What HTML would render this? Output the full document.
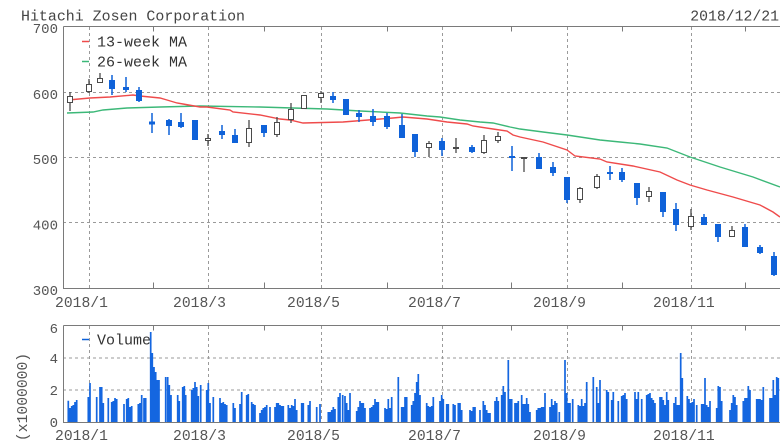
<!DOCTYPE html>
<html><head><meta charset="utf-8"><style>
html,body{margin:0;padding:0;background:#fff;}
svg{display:block;}
text{font-family:"Liberation Mono","DejaVu Sans Mono",monospace;}
</style></head><body>
<svg width="780" height="447" viewBox="0 0 780 447" xmlns="http://www.w3.org/2000/svg">
<rect width="780" height="447" fill="#fff"/>
<!-- Title -->
<text x="21" y="20.5" font-size="15" fill="#444" textLength="224" lengthAdjust="spacingAndGlyphs">Hitachi Zosen Corporation</text>
<text x="779" y="20.5" font-size="14.8" fill="#444" text-anchor="end">2018/12/21</text>

<!-- Price gridlines -->
<g stroke="#9a9a9a" stroke-width="1" stroke-dasharray="3,3" fill="none">
<path d="M63 92.5H780M63 157.5H780M63 222.5H780"/>
<path d="M89.5 27V288M208.5 27V288M321.5 27V288M442.5 27V288M567.5 27V288M691.5 27V288"/>
<path d="M63 358H780M63 390H780"/>
<path d="M89.5 326V422M208.5 326V422M321.5 326V422M442.5 326V422M567.5 326V422M691.5 326V422"/>
</g>

<!-- Frames -->
<g stroke="#7a7a7a" stroke-width="1" fill="none">
<path d="M63.5 26.5V288.5H780M63.5 26.5H780"/>
<path d="M63.5 325.5V422.5H780M63.5 325.5H780"/>
<path d="M153.5 26.5V31.5M264.5 26.5V31.5M387.5 26.5V31.5M511.5 26.5V31.5M622.5 26.5V31.5M745.5 26.5V31.5"/>
<path d="M153.5 288.5V282.5M264.5 288.5V282.5M387.5 288.5V282.5M511.5 288.5V282.5M622.5 288.5V282.5M745.5 288.5V282.5"/>
<path d="M153.5 325.5V330.5M264.5 325.5V330.5M387.5 325.5V330.5M511.5 325.5V330.5M622.5 325.5V330.5M745.5 325.5V330.5"/>
<path d="M153.5 422.5V416.5M264.5 422.5V416.5M387.5 422.5V416.5M511.5 422.5V416.5M622.5 422.5V416.5M745.5 422.5V416.5"/>
</g>

<!-- Y labels price -->
<g font-size="14" fill="#555" text-anchor="end">
<text x="58" y="33">700</text>
<text x="58" y="99">600</text>
<text x="58" y="164">500</text>
<text x="58" y="229.5">400</text>
<text x="58" y="295">300</text>
<text x="58" y="333">6</text>
<text x="58" y="363">4</text>
<text x="58" y="395">2</text>
<text x="58" y="427">0</text>
</g>
<!-- X labels -->
<g font-size="14.7" fill="#555">
<text x="55" y="307">2018/1</text>
<text x="173" y="307">2018/3</text>
<text x="287" y="307">2018/5</text>
<text x="408" y="307">2018/7</text>
<text x="533" y="307">2018/9</text>
<text x="653" y="307">2018/11</text>
<text x="55" y="440">2018/1</text>
<text x="173" y="440">2018/3</text>
<text x="287" y="440">2018/5</text>
<text x="408" y="440">2018/7</text>
<text x="533" y="440">2018/9</text>
<text x="653" y="440">2018/11</text>
</g>
<text transform="translate(27,397) rotate(-90)" font-size="14.7" fill="#555" text-anchor="middle">(x1000000)</text>

<!-- MA lines -->
<polyline fill="none" stroke="#3cb878" stroke-width="1.4" points="67,113 93,112 103,110 127,108 160,107 200,106 260,107 293,108 327,109 360,111 400,113 427,116 440,117 460,120 480,122 493,123 510,127 520,129 543,132 567,135 600,140 620,142 640,144 667,148 690,157 720,167 753,177 780,187"/>
<polyline fill="none" stroke="#ef4b4b" stroke-width="1.4" points="68,100 90,98 110,97 133,95 140,96 160,98 167,100 177,103 183,104 200,107 207,107 230,110 233,112 260,115 280,119 290,120 303,123 343,122 393,118 403,117 427,119 447,122 467,124 473,126 493,129 507,131 513,135 520,137 543,142 567,150 575,156 600,159 607,162 633,166 660,172 677,180 690,185 707,190 733,197 760,205 773,212 780,217"/>

<!-- Blue candles -->
<path fill="none" stroke="#0f62d9" stroke-width="1.5" d="M112 75V95M126 77V92M139 87V102M152 113V133M169 119V135M181 113V128M195 120V140M222 125V139M235 129V143M264 125V137M333 92V103M346 99V115M359 110V122M373 109V126M387 113V129M402 114V138M415 134V157M442 138V156M472 145V153M512 146V171M539 153V169M553 162V176M567 177V203M610 166V180M622 168V182M637 183V205M663 192V217M676 203V231M704 214V225M718 224V242M745 224V247M760 245V254M774 252V276"/>
<g fill="#0f62d9">
<rect x="109" y="80" width="6" height="9"/>
<rect x="123" y="87" width="6" height="3"/>
<rect x="136" y="90" width="6" height="11"/>
<rect x="149" y="121.5" width="6" height="3"/>
<rect x="166" y="120" width="6" height="6"/>
<rect x="178" y="122" width="6" height="5"/>
<rect x="192" y="120" width="6" height="20"/>
<rect x="219" y="131" width="6" height="4"/>
<rect x="232" y="135" width="6" height="8"/>
<rect x="261" y="125" width="6" height="8"/>
<rect x="330" y="96" width="6" height="4"/>
<rect x="343" y="99" width="6" height="16"/>
<rect x="356" y="113" width="6" height="4"/>
<rect x="370" y="116" width="6" height="6"/>
<rect x="384" y="116" width="6" height="11"/>
<rect x="399" y="125" width="6" height="13"/>
<rect x="412" y="134" width="6" height="18"/>
<rect x="439" y="141" width="6" height="9"/>
<rect x="469" y="147" width="6" height="5"/>
<rect x="509" y="156" width="6" height="2"/>
<rect x="536" y="157" width="6" height="12"/>
<rect x="550" y="167" width="6" height="6"/>
<rect x="564" y="177" width="6" height="23"/>
<rect x="607" y="172" width="6" height="2"/>
<rect x="619" y="172" width="6" height="8"/>
<rect x="634" y="183" width="6" height="15"/>
<rect x="660" y="192" width="6" height="20"/>
<rect x="673" y="209" width="6" height="16"/>
<rect x="701" y="217" width="6" height="8"/>
<rect x="715" y="224" width="6" height="13"/>
<rect x="742" y="227" width="6" height="20"/>
<rect x="757" y="247" width="6" height="6"/>
<rect x="771" y="256" width="6" height="19"/>
</g>

<!-- Hollow candles -->
<path fill="none" stroke="#4a4a4a" stroke-width="1.3" d="M70 92V111M89 79V93M100 73V83M208 134V146M249 120V147M277 117V137M291 103V123M304 95V109M321 91V103M429 141V157M456 138V153M484 135V154M498 132V143M524 158V172M580 187V203M597 174V189M649 187V202M691 209V230M732 226V237"/>
<path fill="none" stroke="#4a4a4a" stroke-width="2" d="M453 148H459M521 158H527"/>
<g fill="#fff" stroke="#4a4a4a" stroke-width="1">
<rect x="67.5" y="96.5" width="5" height="6"/>
<rect x="86.5" y="84.5" width="5" height="7"/>
<rect x="97.5" y="78.5" width="5" height="4"/>
<rect x="205.5" y="138.5" width="5" height="2"/>
<rect x="246.5" y="128.5" width="5" height="14"/>
<rect x="274.5" y="122.5" width="5" height="12"/>
<rect x="288.5" y="109.5" width="5" height="10"/>
<rect x="301.5" y="95.5" width="5" height="13"/>
<rect x="318.5" y="93.5" width="5" height="4"/>
<rect x="426.5" y="143.5" width="5" height="4"/>
<rect x="481.5" y="140.5" width="5" height="12"/>
<rect x="495.5" y="136.5" width="5" height="4"/>
<rect x="577.5" y="188.5" width="5" height="11"/>
<rect x="594.5" y="176.5" width="5" height="11"/>
<rect x="646.5" y="191.5" width="5" height="5"/>
<rect x="688.5" y="216.5" width="5" height="10"/>
<rect x="729.5" y="230.5" width="5" height="6"/>
</g>

<!-- Legends -->
<path d="M82 41.5H89" stroke="#ef4b4b" stroke-width="1.5"/>
<path d="M82 61.5H89" stroke="#3cb878" stroke-width="1.5"/>
<g font-size="15" fill="#333">
<text x="97" y="46.5">13-week MA</text>
<text x="97" y="66.5">26-week MA</text>
<text x="97" y="344.5">Volume</text>
</g>
<path d="M82 339.5H89" stroke="#0f62d9" stroke-width="1.5"/>

<!-- Volume bars -->
<path fill="none" stroke="#1466e0" stroke-width="1.7" d="M68.3 400.7V422M70 408V422M71.7 406V422M73.3 405V422M75 402V422M76.7 400V422M88.3 397V422M90 383V422M96.7 397V422M100 387V422M101.7 387V422M103.3 403V422M108.3 398V422M111.7 402V422M113.3 401V422M115 398V422M116.7 399V422M124 404V422M126.7 399V422M128.3 398V422M130 407V422M131.7 406V422M138.3 404V422M140 403V422M141.7 395V422M144 398V422M145.7 398V422M150.7 332V422M152.3 353V422M154 367V422M155.7 372V422M157.3 380V422M159 380V422M165.7 377V422M167.7 377V422M169.3 385V422M171 395V422M177.7 395V422M179.3 401V422M182.7 387V422M184.3 386V422M185.7 395V422M191.7 390V422M193.3 388V422M195 382V422M196.7 387V422M198.3 396V422M200.7 385V422M206.7 390V422M208.3 383V422M210 403V422M213.3 397V422M220 398V422M221.7 403V422M223.3 402V422M225 404V422M226.7 405V422M233.3 403V422M235 408V422M240 404V422M241.7 392V422M246.7 395V422M248.3 394V422M251.7 402V422M253.3 404V422M255 405V422
M260 413V422M261.7 410V422M263.3 408V422M265 407V422M266.7 405V422M270 407V422M275 407V422M276.7 403V422M278.3 403V422M280 405V422M281.7 406V422M283.3 406V422M288.3 405V422M290 408V422M291.7 405V422M293.3 406V422M295 399V422M296.7 410V422M301.7 403V422M303.3 403V422M308.3 405V422M310 401V422M316.7 407V422M320 404V422M328.3 412V422M330 412V422M331.7 410V422M333.3 407V422M335 409V422M338.3 397V422M340 393V422M342.7 395V422M345 396V422M346.7 403V422M348.3 410V422M350 393V422M356.7 411V422M358.3 407V422M360 401V422M361.7 403V422M363.3 403V422M365 408V422M370 408V422M371.7 407V422M373.3 405V422M375 399V422M376.7 402V422M378.3 402V422M385 408V422M386.7 409V422M388.3 399V422M390 408V422M391.7 397V422M398.3 377V422M401.7 407V422M403.3 407V422M405 397V422M406.7 397V422M411.7 405V422M413.3 401V422M415 393V422M416.7 382V422M418.3 374V422M420 395V422M426.7 403V422M428.3 406V422M430 407V422M431.7 406V422M433.3 397V422M440 401V422M441.7 395V422M443.3 399V422M446.7 404V422M448.3 404V422M453.3 404V422M455 405V422M458.3 403V422M460 403V422M461.7 410V422M470 410V422M471.7 411V422M473.3 407V422M475 407V422M480 410V422M483.3 401V422M485 405V422M486.7 410V422M488.3 413V422M490 413V422M495 401V422M496.7 397V422M498.3 401V422M501.7 395V422M503.3 386V422M505 392V422M508.3 360V422M510 399V422M511.7 399V422M515 403V422M516.7 403V422M518.3 401V422
M521.7 395V422M523.3 404V422M525 404V422M526.7 398V422M528.3 404V422M530 412V422M536.7 410V422M538.3 408V422M540 408V422M541.7 407V422M543.3 407V422M545 393V422M550 407V422M551.7 399V422M553.3 405V422M555 401V422M556.7 403V422M559.3 412V422M565 360V422M566.7 393V422M568.3 403V422M570 403V422M572.7 399V422M578.3 405V422M580 406V422M581.7 399V422M583.3 406V422M585 403V422M586.7 382V422M593.3 377V422M596.7 387V422M598.3 403V422M600 380V422M606.7 390V422M608.3 392V422M611.7 400V422M613.3 392V422M618.3 401V422M621.7 396V422M623.3 395V422M625 393V422M626.7 399V422M635 392V422M636.7 399V422M638.3 392V422M641.7 399V422M646.7 395V422M648.3 394V422M650 393V422M651.7 398V422M653.3 400V422M655 403V422M660 397V422M661.7 397V422M663.3 400V422M665 405V422M666.7 392V422M668.3 400V422M674 403V422M675.7 397V422M677.3 405V422M679 405V422M680.7 353V422M682.3 378V422M687.3 396V422M689 399V422M690.7 403V422M692.3 402V422M694 399V422M696.7 405V422M701.7 404V422M703.3 404V422M705 378V422M706.7 405V422M708.3 407V422M710 401V422M716.7 408V422M718.3 386V422M720 387V422M721.7 401V422M730 410V422M731.7 403V422M733.3 395V422M735 397V422M736.7 405V422M743.3 401V422M745 398V422M746.7 398V422M748.3 386V422M750 390V422M756.7 399V422M758.3 399V422M760 399V422M761.7 400V422M763.3 387V422M770 398V422M771.7 398V422M773.3 380V422M775 395V422M776.7 377V422M778.3 378V422"/>
</svg>
</body></html>
